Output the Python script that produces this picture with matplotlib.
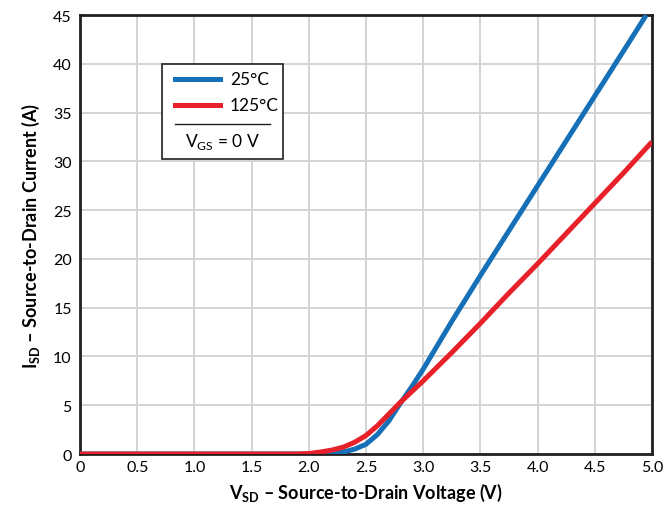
import matplotlib
matplotlib.use("Agg")
import matplotlib.pyplot as plt
from matplotlib.patches import Rectangle
from matplotlib.lines import Line2D

plt.rcParams['font.family'] = ['Lato', 'DejaVu Sans']
plt.rcParams['mathtext.fontset'] = 'custom'
plt.rcParams['mathtext.rm'] = 'Lato'
plt.rcParams['mathtext.bf'] = 'Lato:bold'

# Data
v_25 = [0, 2.0, 2.2, 2.3, 2.4, 2.5, 2.6, 2.7, 2.8, 2.9, 3.0, 3.25, 3.5, 3.75, 4.0, 4.25, 4.5, 4.75, 4.95]
i_25 = [0, 0, 0.05, 0.2, 0.5, 1.0, 2.0, 3.4, 5.2, 6.9, 8.7, 13.6, 18.3, 22.9, 27.5, 32.1, 36.7, 41.3, 45]
v_125 = [0, 1.9, 2.0, 2.1, 2.2, 2.3, 2.4, 2.5, 2.6, 2.7, 2.8, 2.9, 3.0, 3.25, 3.5, 3.75, 4.0, 4.25, 4.5, 4.75, 5.0]
i_125 = [0, 0, 0.05, 0.2, 0.4, 0.7, 1.2, 1.9, 2.9, 4.1, 5.3, 6.4, 7.5, 10.4, 13.4, 16.5, 19.5, 22.6, 25.7, 28.8, 32.0]
labels = ['25°C', '125°C']
colors = ['#1570b8', '#e8202a']
x_ticks = [0, 0.5, 1.0, 1.5, 2.0, 2.5, 3.0, 3.5, 4.0, 4.5, 5.0]
x_ticklabels = ['0', '0.5', '1.0', '1.5', '2.0', '2.5', '3.0', '3.5', '4.0', '4.5', '5.0']
y_ticks = [0, 5, 10, 15, 20, 25, 30, 35, 40, 45]

fig = plt.figure(figsize=(6.63, 5.10), dpi=100)
ax = fig.add_axes([0.1207, 0.1078, 0.8627, 0.8608])

ax.plot(v_25, i_25, color=colors[0], lw=3.6, solid_capstyle='butt', solid_joinstyle='round', zorder=3)
ax.plot(v_125, i_125, color=colors[1], lw=3.6, solid_capstyle='butt', solid_joinstyle='round', zorder=4)

ax.set_xlim(0, 5.0)
ax.set_ylim(0, 45)
ax.set_xticks(x_ticks)
ax.set_xticklabels(x_ticklabels)
ax.set_yticks(y_ticks)
ax.tick_params(length=0, labelsize=11.5)
ax.tick_params(axis='x', pad=4)
ax.tick_params(axis='y', pad=6)
ax.grid(True, color='#d4d4d4', lw=1.4, zorder=0)
ax.set_axisbelow(True)
for s in ax.spines.values():
    s.set_linewidth(2.0)
    s.set_color('#231f20')

ax.set_xlabel(r'$\mathbf{V_{SD}}$ – Source-to-Drain Voltage (V)', fontsize=13, fontweight='bold', labelpad=5)
ax.set_ylabel(r'$\mathbf{I_{SD}}$ – Source-to-Drain Current (A)', fontsize=13, fontweight='bold', labelpad=8)

# Legend box
tr = ax.transAxes
ax.add_patch(Rectangle((0.143, 0.672), 0.212, 0.216, transform=tr, fill=True,
                       facecolor='white', edgecolor='#231f20', lw=1.2, zorder=5))
ly = [0.854, 0.795]
for k in range(2):
    ax.add_line(Line2D([0.166, 0.245], [ly[k], ly[k]], transform=tr, color=colors[k], lw=3.6, zorder=6))
    ax.text(0.262, ly[k], labels[k], transform=tr, fontsize=12.5, va='center', ha='left', zorder=6)
ax.add_line(Line2D([0.166, 0.332], [0.752, 0.752], transform=tr, color='#231f20', lw=1.0, zorder=6))
ax.text(0.249, 0.712, r'V$_{\mathregular{GS}}$ = 0 V', transform=tr, fontsize=12.5, va='center', ha='center', zorder=6)

fig.savefig('out.png', dpi=100)
